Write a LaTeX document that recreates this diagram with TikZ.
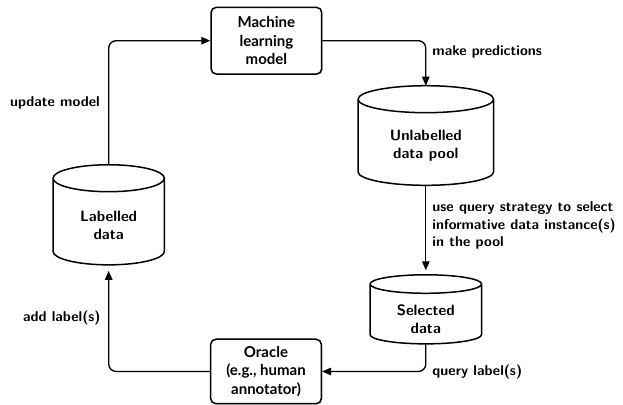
\documentclass[tikz,border=0pt]{standalone}
\usepackage{fontspec}
\newfontfamily\latofont{Lato}
\usetikzlibrary{calc,arrows.meta,shadows}

\tikzset{
  flow/.style={line width=0.9pt, rounded corners=5pt, -{Triangle[length=6pt,width=5pt]}},
  process/.style={draw, line width=1pt, rounded corners=3.5pt, fill=white, align=center,
    font={\latofont\bfseries\fontsize{10}{12.5}\selectfont},
    minimum width=2.594cm, minimum height=1.563cm,
    drop shadow={shadow xshift=0.8pt, shadow yshift=-0.8pt, opacity=0.25}},
  store/.style={inner sep=0pt},
  storeline/.style={line width=1pt},
  storetext/.style={align=center, yshift=-0.24cm, font={\sffamily\bfseries\fontsize{10}{12}\selectfont}},
  flowtext/.style={inner sep=4pt, align=left, font={\sffamily\bfseries\fontsize{9.5}{11.7}\selectfont}},
}

% outline of a store: #1 node name, #2 radius of the end ellipses
\newcommand\storeoutline[2]{%
  \draw [storeline] let \p1=(#1.north west), \p2=(#1.south east), \n1={(\x2-\x1)/2} in
    (\x1,\y1-#2) arc [start angle=180, end angle=360, x radius=\n1, y radius=#2]
    arc [start angle=0, end angle=180, x radius=\n1, y radius=#2]
    -- (\x1,\y2+#2) arc [start angle=180, end angle=360, x radius=\n1, y radius=#2]
    -- (\x2,\y1-#2);%
}

\begin{document}
\begin{tikzpicture}
                \useasboundingbox (0,0) rectangle (14.600000,9.468000);

                % Drawing box model
                \node [process] (model) at (6.243000,8.514000) {Machine\\learning\\model};

                % Drawing store pool
                \node [store, minimum width=3.164cm, minimum height=2.320cm,
                       label={[storetext]center:Unlabelled\\data pool}] (pool) at (9.979000,6.292000) {};
                \storeoutline{pool}{0.316cm}

                % Drawing store selected
                \node [store, minimum width=2.601cm, minimum height=1.605cm,
                       label={[storetext]center:Selected\\data}] (selected) at (9.979000,2.219000) {};
                \storeoutline{selected}{0.217cm}

                % Drawing box oracle
                \node [process, minimum height=1.512cm] (oracle) at (6.234000,0.762000) {Oracle\\(e.g., human\\annotator)};

                % Drawing store labelled
                \node [store, minimum width=2.594cm, minimum height=2.332cm,
                       label={[storetext]center:Labelled\\data}] (labelled) at (2.547000,4.434000) {};
                \storeoutline{labelled}{0.316cm}

                % Drawing flow model -> pool
                \draw [flow] (model.east) -| node [flowtext, pos=0.62, right] {make predictions} (pool.north);

                % Drawing flow pool -> selected
                \draw [flow, shorten >=3pt] (pool.south) -- node [flowtext, pos=0.45, right]
                      {use query strategy to select\\informative data instance(s)\\in the pool} (selected.north);

                % Drawing flow selected -> oracle
                \draw [flow] (selected.south) |- node [flowtext, pos=0.5, right] {query label(s)} (oracle.east);

                % Drawing flow oracle -> labelled
                \draw [flow, shorten >=4pt] (oracle.west) -| node [flowtext, pos=0.75, left, xshift=-1pt] {add label(s)} (labelled.south);

                % Drawing flow labelled -> model
                \draw [flow] (labelled.north) |- node [flowtext, pos=0.25, left, xshift=-1.5pt] {update model} (model.west);
\end{tikzpicture}
\end{document}
